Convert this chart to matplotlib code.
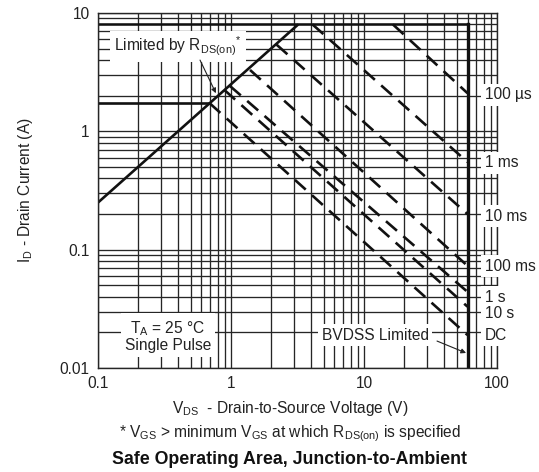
import matplotlib
matplotlib.use('Agg')
import matplotlib.pyplot as plt
from matplotlib.ticker import LogLocator, NullFormatter

plt.rcParams['font.family'] = ['Liberation Sans', 'DejaVu Sans']
plt.rcParams['mathtext.fontset'] = 'custom'
plt.rcParams['mathtext.rm'] = 'Liberation Sans'
plt.rcParams['mathtext.it'] = 'Liberation Sans'

# Limit lines
rds_v = [0.1, 3.2]
rds_i = [0.25, 8.0]
id_v = [0.1, 0.69]
id_i = [1.73, 1.73]
idm = 8.0
bvdss = 60.0

# Pulse-width lines: start point on the limit, end current at BVDSS
pulse_labels = ['100 µs', '1 ms', '10 ms', '100 ms', '1 s', '10 s', 'DC']
pulse_v_start = [16.5, 4.1, 2.2, 1.39, 0.98, 0.89, 0.69]
pulse_i_start = [8.0, 8.0, 5.4, 3.3, 2.42, 2.24, 1.73]
pulse_i_end = [2.1, 0.55, 0.20, 0.073, 0.044, 0.033, 0.019]
label_i = [2.03, 0.54, 0.192, 0.0726, 0.0398, 0.0291, 0.019]

xticks = [0.1, 1, 10, 100]
xtick_labels = ['0.1', '1', '10', '100']
yticks = [0.01, 0.1, 1, 10]
ytick_labels = ['0.01', '0.1', '1', '10']

txt = '#222222'
fs = 11.2
fig = plt.figure(figsize=(5.39, 4.72), dpi=100)
ax = fig.add_axes([0.1818, 0.2203, 0.7403, 0.7522])
ax.set_xscale('log')
ax.set_yscale('log')
ax.set_xlim(0.1, 100)
ax.set_ylim(0.01, 10)

# log grid
ax.xaxis.set_minor_locator(LogLocator(base=10, subs=range(2, 10)))
ax.yaxis.set_minor_locator(LogLocator(base=10, subs=range(2, 10)))
ax.xaxis.set_minor_formatter(NullFormatter())
ax.yaxis.set_minor_formatter(NullFormatter())
ax.set_xticks(xticks)
ax.set_xticklabels(xtick_labels)
ax.set_yticks(yticks)
ax.set_yticklabels(ytick_labels)
ax.grid(True, which='both', color='#262626', linewidth=0.95)
ax.tick_params(which='both', length=0, labelsize=fs, labelcolor=txt, pad=6)
for s in ax.spines.values():
    s.set_color('#262626')
    s.set_linewidth(1.0)

# limit lines
ax.plot(rds_v, rds_i, color='#111111', linewidth=1.9, solid_capstyle='butt')
ax.plot(id_v, id_i, color='#111111', linewidth=1.9, solid_capstyle='butt')
ax.plot([0.1, bvdss], [idm, idm], color='#111111', linewidth=1.8)
ax.plot([bvdss, bvdss], [0.01, idm], color='#111111', linewidth=2.4)

for vs, i0, i1 in zip(pulse_v_start, pulse_i_start, pulse_i_end):
    ax.plot([vs, bvdss], [i0, i1], color='#111111', linewidth=1.9,
            dashes=(5.5, 3.2), dash_capstyle='butt')

box = dict(facecolor='white', edgecolor='none', pad=2.5)
for lab, yi in zip(pulse_labels, label_i):
    ax.text(81, yi, lab, fontsize=fs, color=txt, ha='left', va='center',
            bbox=box, clip_on=False)

ax.text(0.40, 5.2, r'Limited by R$_{\mathregular{DS(on)}}$$^{\mathregular{*}}$',
        fontsize=fs, color=txt, ha='center', va='center',
        bbox=dict(facecolor='white', edgecolor='none', pad=3))
ax.annotate('', xy=(0.77, 2.1), xytext=(0.585, 4.0),
            arrowprops=dict(arrowstyle='-|>', color='#222222', lw=0.8,
                            mutation_scale=7, shrinkA=0, shrinkB=0))

ax.text(0.336, 0.0186, 'T$_{\\mathregular{A}}$ = 25 °C\nSingle Pulse',
        fontsize=fs, color=txt, ha='center', va='center', linespacing=1.05,
        bbox=dict(facecolor='white', edgecolor='none', pad=3))

ax.text(12.1, 0.019, 'BVDSS Limited', fontsize=fs, color=txt,
        ha='center', va='center', bbox=box)
ax.annotate('', xy=(58.5, 0.0134), xytext=(35.4, 0.0169),
            arrowprops=dict(arrowstyle='-|>', color='#222222', lw=0.8,
                            mutation_scale=7, shrinkA=0, shrinkB=0))

fig.text(0.538, 1 - 409 / 472, r'V$_{\mathregular{DS}}$  - Drain-to-Source Voltage (V)',
         fontsize=fs, color=txt, ha='center', va='center')
fig.text(0.538, 1 - 434 / 472,
         r'* V$_{\mathregular{GS}}$ > minimum V$_{\mathregular{GS}}$ at which R$_{\mathregular{DS(on)}}$ is specified',
         fontsize=fs, color=txt, ha='center', va='center')
fig.text(0.538, 1 - 459 / 472, 'Safe Operating Area, Junction-to-Ambient',
         fontsize=12.8, fontweight='bold', color='#111111', ha='center', va='center')
ax.set_ylabel(r'I$_{\mathregular{D}}$ - Drain Current (A)', fontsize=fs, color=txt, labelpad=18)

fig.savefig('out.png', dpi=100)
